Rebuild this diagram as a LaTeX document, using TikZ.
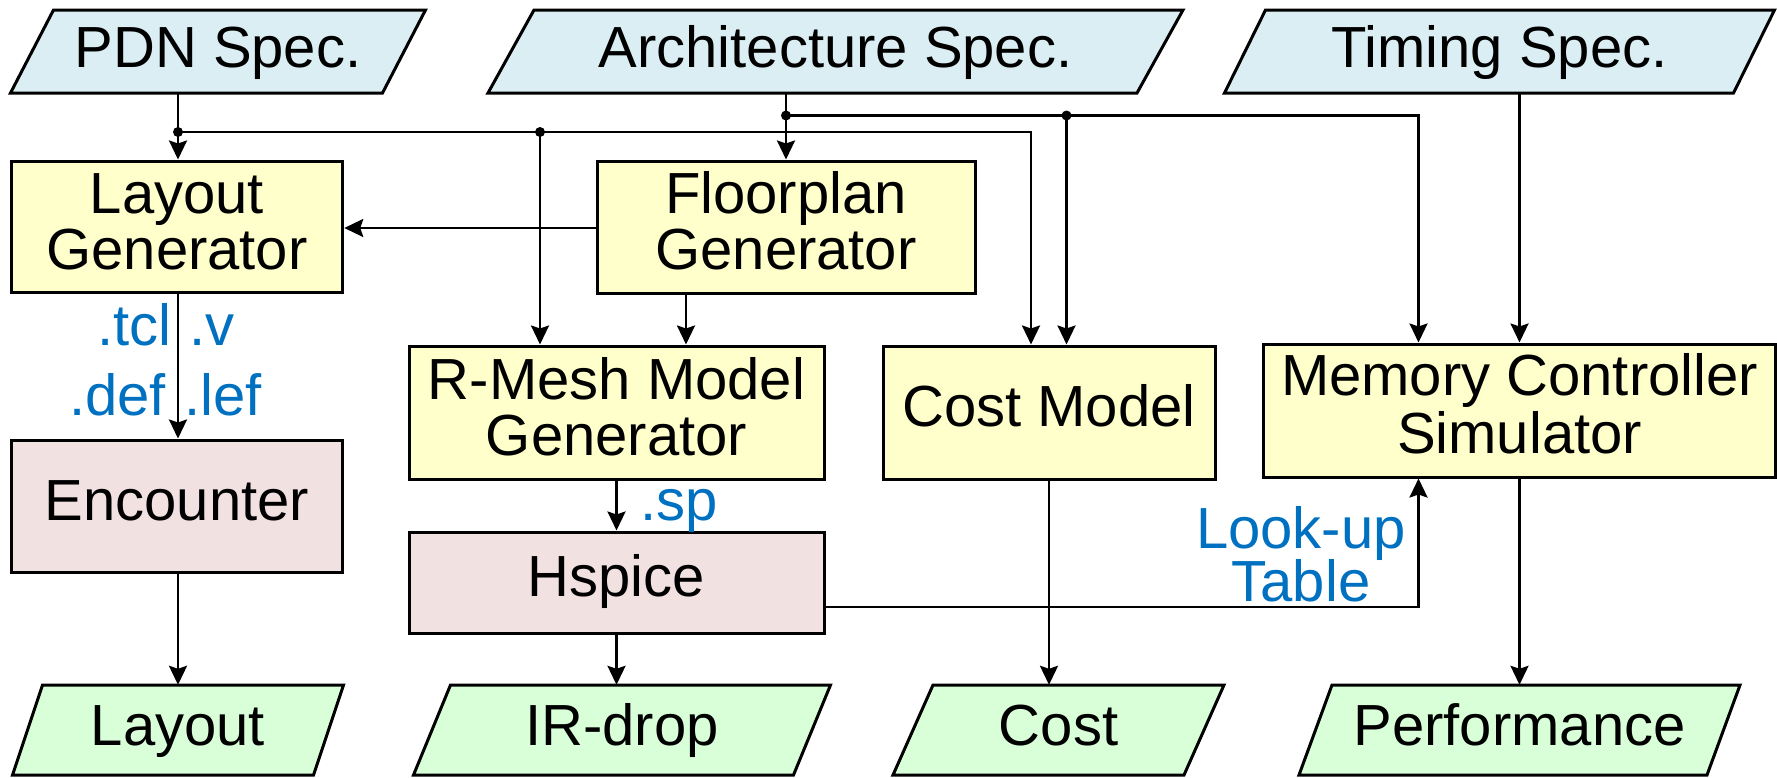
\documentclass[tikz,border=0pt]{standalone}
\usepackage{fontspec}
\setmainfont{Liberation Sans}
\usetikzlibrary{arrows.meta,calc}
\definecolor{specblue}{HTML}{DAEEF3}
\definecolor{procyel}{HTML}{FFFFCC}
\definecolor{toolpink}{HTML}{F2E1E1}
\definecolor{outgreen}{HTML}{D9FFD9}
\definecolor{lblblue}{HTML}{0070C0}
\newcommand\dfont{\fontsize{58}{57}\selectfont}
\newcommand\twolines[2]{\begin{tabular}[b]{@{}c@{}}#1\\[-1.6pt]#2\end{tabular}}
% name, cx, cy, w, h, slant, fill, text
\newcommand\paranode[8]{%
  \draw[fill=#7, line width=3pt, line join=miter]
    ({#2-#4/2-#6/2},{#3+#5/2}) -- ({#2+#4/2-#6/2},{#3+#5/2}) --
    ({#2+#4/2+#6/2},{#3-#5/2}) -- ({#2-#4/2+#6/2},{#3-#5/2}) -- cycle;
  \node[inner sep=0pt, minimum width=#4pt, minimum height=#5pt, font=\dfont,
        text height=43pt, text depth=12pt] (#1) at (#2,#3) {#8};
}
\begin{document}
\begin{tikzpicture}[x=1pt,y=-1pt,
  box/.style={draw=black, line width=3pt, inner sep=0pt, font=\dfont, text depth=13.6pt, text height=42pt},
  twobox/.style={text height=99pt},
  procbox/.style={box, fill=procyel},
  toolbox/.style={box, fill=toolpink},
  conn/.style={line width=2.6pt, -{Stealth[length=19pt,width=18pt,inset=3pt]}},
  lbl/.style={text=lblblue, font=\dfont, inner sep=0pt},
  dotmark/.style={fill=black, draw=none}]
\useasboundingbox (0,0) rectangle (1777,777);

% input specs
\paranode{pdn}{218}{51.5}{372}{83}{43}{specblue}{PDN Spec.}
\paranode{arch}{835.5}{51.5}{649}{83}{46}{specblue}{Architecture Spec.}
\paranode{tim}{1499.5}{51.5}{509}{83}{41}{specblue}{Timing Spec.}

% process boxes
\node[procbox, twobox, minimum width=331.5pt, minimum height=131pt] (lgen) at (177,226.5) {\twolines{Layout}{Generator}};
\node[procbox, twobox, minimum width=378pt, minimum height=132pt] (fp) at (786,227) {\twolines{Floorplan}{Generator}};
\node[procbox, twobox, minimum width=415pt, minimum height=133pt] (rm) at (616.5,412.5) {\twolines{R-Mesh Model}{Generator}};
\node[procbox, minimum width=332pt, minimum height=133pt] (cm) at (1049,412.5) {Cost Model};
\node[procbox, twobox, minimum width=512pt, minimum height=133pt] (mem) at (1519.5,410.5) {\twolines{Memory Controller}{Simulator}};
\node[toolbox, minimum width=331.5pt, minimum height=132pt] (enc) at (177,506) {Encounter};
\node[toolbox, minimum width=415pt, minimum height=101pt] (hs) at (616.5,582.5) {Hspice};

% outputs
\paranode{lout}{178}{730}{301}{90}{30}{outgreen}{Layout}
\paranode{irout}{622}{730}{380}{90}{37}{outgreen}{IR-drop}
\paranode{cout}{1058.5}{730}{291}{90}{40}{outgreen}{Cost}
\paranode{pout}{1519.5}{730}{408}{90}{33}{outgreen}{Performance}

% junctions
\coordinate (j1) at (178,132);
\coordinate (j2) at (540,132);
\coordinate (j3) at (786,115.5);
\coordinate (j4) at (1066.5,115.5);
\coordinate (hsout) at ($(hs.east)+(0,24.5)$);

% PDN distribution
\draw[conn] (pdn.south -| j1) -- (lgen.north -| j1);
\draw[conn] (j1) -| ($(cm.north)+(-18,0)$);
\draw[conn] (j2) -- (rm.north -| j2);
% Architecture distribution
\draw[conn] (arch.south -| j3) -- (fp.north -| j3);
\draw[conn] (j3) -| ($(mem.north)+(-101,0)$);
\draw[conn] (j4) -- (cm.north -| j4);
% Timing
\draw[conn] (tim.south -| mem.north) -- (mem.north);

% internal flows
\draw[conn] (fp.west |- 0,228) -- (lgen.east |- 0,228);
\draw[conn] (fp.south -| 686,0) -- (rm.north -| 686,0);
\draw[conn] (lgen.south -| j1) -- (enc.north -| j1);
\draw[conn] (rm.south) -- (hs.north);
\draw[conn] (hsout) -| ($(mem.south)+(-101,0)$);
\draw[conn] (enc.south -| j1) -- (lout.north -| j1);
\draw[conn] (hs.south) -- (hs.south |- irout.north);
\draw[conn] (cm.south) -- (cm.south |- cout.north);
\draw[conn] (mem.south) -- (mem.south |- pout.north);

% dots
\foreach \j in {j1,j2,j3,j4} \fill[dotmark] (\j) circle (5pt);

% labels
\node[lbl, anchor=base east] (ltcl) at (172,345) {.tcl};
\node[lbl, anchor=base west] (lv) at (189,345) {.v};
\node[lbl, anchor=base east] (ldef) at (166,415) {.def};
\node[lbl, anchor=base west] (llef) at (184,415) {.lef};
\node[lbl, anchor=base west] (lsp) at (640,520) {.sp};
\node[lbl, anchor=base] (llook) at (1301,548) {Look-up};
\node[lbl, anchor=base] (ltab) at (1301,601) {Table};
\end{tikzpicture}
\end{document}
